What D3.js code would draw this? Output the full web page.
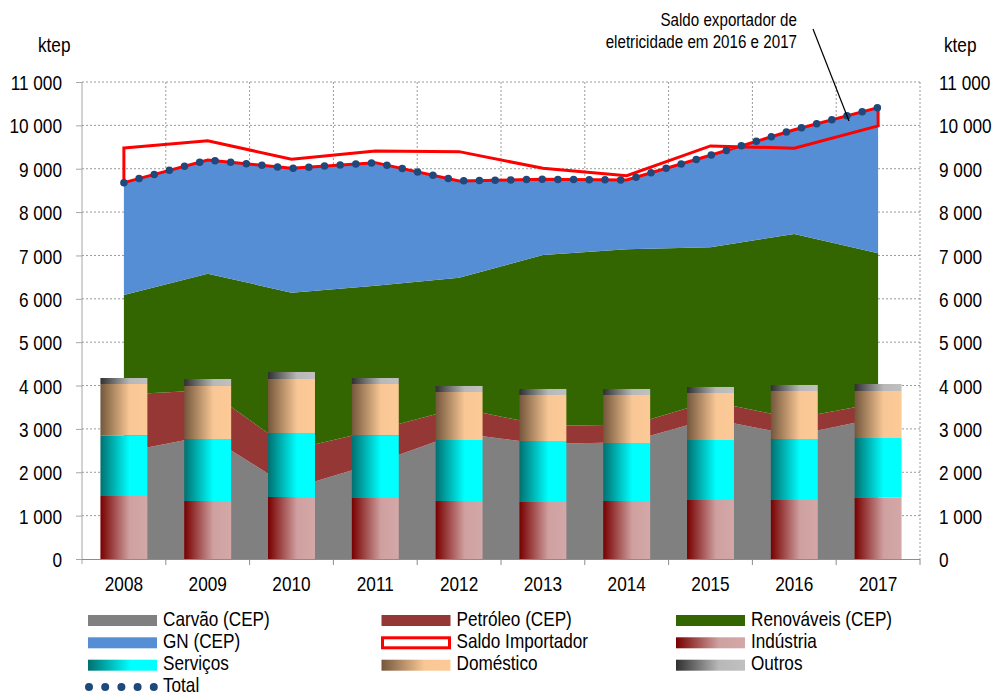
<!DOCTYPE html>
<html><head><meta charset="utf-8">
<script src="https://cdn.jsdelivr.net/npm/d3@7"></script>
<style>
html,body{margin:0;padding:0;background:#fff;}
svg text{font-family:'Liberation Sans',Arial,sans-serif;fill:#000;}
</style></head>
<body>
<svg id="chart" width="994" height="696"></svg>
<script>
const years = ["2008","2009","2010","2011","2012","2013","2014","2015","2016","2017"];
const carvao     = [2470, 2845, 1628, 2210, 2900, 2650, 2695, 3235, 2855, 3252];
const petroleo   = [1321, 1045,  892,  760,  580,  438,  365,  405,  387,  346];
const renovaveis = [2298, 2690, 3622, 3333, 3008, 3923, 4082, 3548, 4253, 3452];
const gn         = [2590, 2622, 2868, 2837, 2230, 1746, 1599, 2122, 2405, 3360];
const saldo      = [ 800,  445,  208,  270,  676,  253,   99,  215, -428, -424];
const total      = [8679, 9202, 9010, 9140, 8718, 8757, 8741, 9310, 9900, 10410];
const industria  = [1453, 1338, 1430, 1407, 1338, 1315, 1338, 1361, 1361, 1414];
const servicos   = [1399, 1429, 1476, 1445, 1406, 1406, 1337, 1383, 1406, 1376];
const domestico  = [1184, 1223, 1245, 1184, 1107, 1061, 1107, 1084, 1107, 1084];
const outros     = [ 138,  161,  162,  138,  139,  139,  139,  139,  139,  162];
const yTicks = [0,1000,2000,3000,4000,5000,6000,7000,8000,9000,10000,11000];
const unitLabel = "ktep";
const annotation = ["Saldo exportador de", "eletricidade em 2016 e 2017"];
const legendNames = ["Carvão (CEP)","Petróleo (CEP)","Renováveis (CEP)","GN (CEP)","Saldo Importador","Indústria","Serviços","Doméstico","Outros","Total"];

const svg = d3.select("#chart");
const L=82, R=920, T=82, B=559;
const x = d3.scaleBand().domain(years).range([L,R]).paddingInner(0).paddingOuter(0);
const cx = d => x(d) + x.bandwidth()/2;
const y = d3.scaleLinear().domain([0,11000]).range([B,T]);
const fmt = v => d3.format(",")(v).replace(/,/g," ");

function narrowBy(k){
  return sel => sel.each(function(){
    const t = d3.select(this);
    const ax = +t.attr("x") || 0;
    t.attr("transform",`translate(${ax},0) scale(${k},1) translate(${-ax},0)`);
  });
}
const narrow = narrowBy(0.82);

// gradients
const defs = svg.append("defs");
const grads = {
  ind: [["0%","#780000"],["62%","#cfa0a0"],["100%","#d4a8a8"]],
  serv:[["0%","#007070"],["62%","#00ffff"],["100%","#00ffff"]],
  dom: [["0%","#74573c"],["62%","#f8c795"],["100%","#fbca97"]],
  out: [["0%","#303030"],["62%","#b8b8b8"],["100%","#c0c0c0"]]
};
Object.entries(grads).forEach(([id,stops])=>{
  const g = defs.append("linearGradient").attr("id","g-"+id).attr("x1","0").attr("x2","1").attr("y1","0").attr("y2","0");
  stops.forEach(s=>g.append("stop").attr("offset",s[0]).attr("stop-color",s[1]));
});

// grid
const grid = svg.append("g");
yTicks.filter(v=>v>0).forEach(v=>{
  grid.append("line").attr("x1",L).attr("x2",R).attr("y1",y(v)).attr("y2",y(v))
    .attr("stroke","#9a9a9a").attr("stroke-width",1).attr("stroke-dasharray","2,2");
});
years.slice(1).concat(["end"]).forEach((yr)=>{
  const xx = yr==="end" ? R : x(yr);
  grid.append("line").attr("x1",xx).attr("x2",xx).attr("y1",T).attr("y2",B)
    .attr("stroke","#9a9a9a").attr("stroke-width",1).attr("stroke-dasharray","2,2");
});

// areas
const rows = years.map((yr,i)=>({year:yr, carvao:carvao[i], petroleo:petroleo[i], renovaveis:renovaveis[i], gn:gn[i]}));
const areaKeys = ["carvao","petroleo","renovaveis","gn"];
const areaColors = {carvao:"#808080", petroleo:"#953735", renovaveis:"#336600", gn:"#558ed5"};
const series = d3.stack().keys(areaKeys)(rows);
const area = d3.area().x(d=>cx(d.data.year)).y0(d=>y(d[0])).y1(d=>y(d[1]));
svg.append("g").selectAll("path").data(series).join("path")
  .attr("d",area).attr("fill",d=>areaColors[d.key]);

// bars
const brows = years.map((yr,i)=>({year:yr, ind:industria[i], serv:servicos[i], dom:domestico[i], out:outros[i]}));
const bseries = d3.stack().keys(["ind","serv","dom","out"])(brows);
const bw = x.bandwidth()*0.56;
svg.append("g").selectAll("g").data(bseries).join("g")
  .attr("fill",d=>"url(#g-"+d.key+")")
  .selectAll("rect").data(d=>d).join("rect")
  .attr("x",d=>cx(d.data.year)-bw/2).attr("width",bw)
  .attr("y",d=>y(d[1])).attr("height",d=>y(d[0])-y(d[1]));

// saldo outline
const gnTop = series[3];
const saldoArea = d3.area().x((d,i)=>cx(years[i])).y0((d,i)=>y(gnTop[i][1])).y1((d,i)=>y(gnTop[i][1]+saldo[i]));
svg.append("path").datum(saldo).attr("d",saldoArea)
  .attr("fill","none").attr("stroke","#ff0000").attr("stroke-width",3).attr("stroke-linejoin","miter");

// total dotted line
const line = d3.line().x((d,i)=>cx(years[i])).y(d=>y(d));
svg.append("path").datum(total).attr("d",line)
  .attr("fill","none").attr("stroke","#1f497d").attr("stroke-width",7.5)
  .attr("stroke-linecap","round").attr("stroke-dasharray","0 15.7");

// axes
const yAxisL = d3.axisLeft(y).tickValues(yTicks).tickFormat(fmt).tickSize(6).tickSizeOuter(0).tickPadding(14);
const gL = svg.append("g").attr("transform",`translate(${L},0)`).call(yAxisL);
gL.attr("font-family",null).attr("font-size",null);
gL.select(".domain").attr("stroke","#a6a6a6").attr("d",`M0,${T}V${B+5}`);
gL.selectAll(".tick line").attr("stroke","#a6a6a6");
gL.selectAll("text").attr("font-size",21).attr("dy","0.36em").call(narrow);

const yAxisR = d3.axisRight(y).tickValues(yTicks).tickFormat(fmt).tickSize(0).tickPadding(19);
const gR = svg.append("g").attr("transform",`translate(${R},0)`).call(yAxisR);
gR.attr("font-family",null).attr("font-size",null);
gR.select(".domain").remove();
gR.selectAll("text").attr("font-size",21).attr("dy","0.36em").call(narrow);

const xAxis = d3.axisBottom(x).tickSize(0).tickPadding(17);
const gX = svg.append("g").attr("transform",`translate(0,${B})`).call(xAxis);
gX.attr("font-family",null).attr("font-size",null);
gX.select(".domain").attr("stroke","#8c8c8c").attr("d",`M${L},0.5H${R}`);
gX.selectAll("text").attr("font-size",21).call(narrow);
svg.append("g").selectAll("line").data(years.slice(1).concat(["end"])).join("line")
  .attr("x1",d=>d==="end"?R:x(d)).attr("x2",d=>d==="end"?R:x(d))
  .attr("y1",B).attr("y2",B+6).attr("stroke","#8c8c8c");

// unit labels
svg.append("text").attr("x",38).attr("y",52).attr("font-size",21).text(unitLabel).call(narrow);
svg.append("text").attr("x",944).attr("y",52).attr("font-size",21).text(unitLabel).call(narrow);

// annotation
svg.append("text").attr("x",797).attr("y",26).attr("text-anchor","end").attr("font-size",18.5).text(annotation[0]).call(narrow);
svg.append("text").attr("x",797).attr("y",48.5).attr("text-anchor","end").attr("font-size",18.5).text(annotation[1]).call(narrow);
svg.append("line").attr("x1",813).attr("y1",29).attr("x2",849).attr("y2",121).attr("stroke","#000").attr("stroke-width",1.2);

// legend
const legendStyles = [
  {type:"fill",fill:"#808080"},{type:"fill",fill:"#953735"},{type:"fill",fill:"#336600"},
  {type:"fill",fill:"#558ed5"},{type:"outline"},{type:"fill",fill:"url(#g-ind)"},
  {type:"fill",fill:"url(#g-serv)"},{type:"fill",fill:"url(#g-dom)"},{type:"fill",fill:"url(#g-out)"},
  {type:"dots"}
];
const colX = [88, 381.5, 676];
const rowY = [620.5, 642.8, 665.2, 687];
const rowBase = [626.3, 648.2, 670.0, 691.8];
const lg = svg.append("g");
legendNames.forEach((name,i)=>{
  const c = i%3, r = Math.floor(i/3);
  const gx = colX[c], gy = rowY[r];
  const st = legendStyles[i];
  if(st.type==="fill"){
    lg.append("rect").attr("x",gx).attr("y",gy-5.5).attr("width",69).attr("height",11).attr("fill",st.fill);
  } else if(st.type==="outline"){
    lg.append("rect").attr("x",gx+1).attr("y",gy-5).attr("width",67).attr("height",10)
      .attr("fill","#fff").attr("stroke","#ff0000").attr("stroke-width",3);
  } else {
    lg.append("line").attr("x1",gx+1).attr("x2",gx+67).attr("y1",gy).attr("y2",gy)
      .attr("stroke","#1f497d").attr("stroke-width",8).attr("stroke-linecap","round").attr("stroke-dasharray","0 16.2");
  }
  lg.append("text").attr("x",gx+75).attr("y",rowBase[r]).attr("font-size",19.4).text(name).call(narrowBy(0.885));
});
</script>
</body></html>
